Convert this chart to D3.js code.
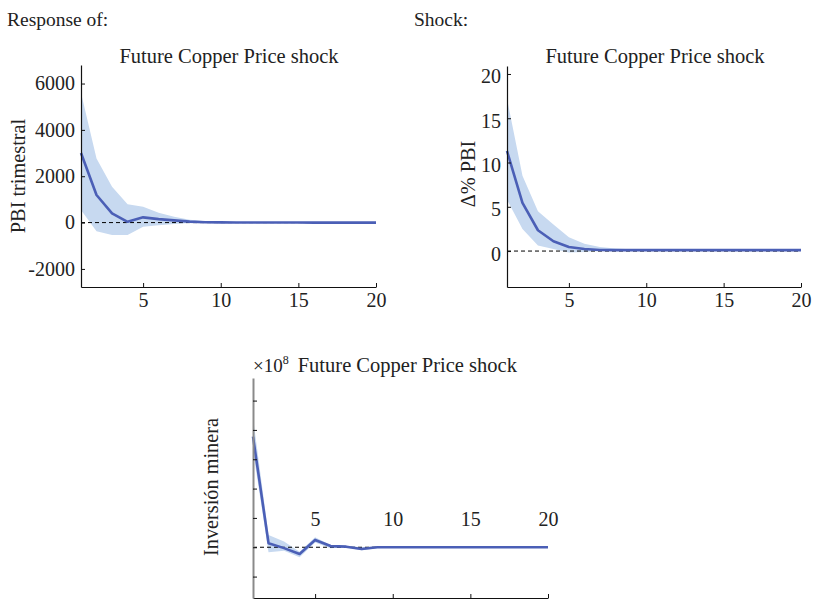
<!DOCTYPE html>
<html>
<head>
<meta charset="utf-8">
<script src="https://cdn.jsdelivr.net/npm/d3@7/dist/d3.min.js"></script>
<style>
  html, body { margin: 0; padding: 0; background: #fff; }
  svg { display: block; }
</style>
</head>
<body>
<svg id="chart" width="817" height="603"></svg>
<script>
// Horizon (quarters after the shock)
const horizon = [1,2,3,4,5,6,7,8,9,10,11,12,13,14,15,16,17,18,19,20];

// PBI trimestral: impulse response and confidence band
const pbiIrf   = [3000, 1190, 400, 35, 225, 150, 95, 40, 15, 8, 5, 3, 2, 1, 1, 0, 0, 0, 0, 0];
const pbiUpper = [5600, 2770, 1550, 790, 680, 420, 250, 120, 60, 30, 15, 10, 6, 4, 3, 2, 1, 1, 1, 1];
const pbiLower = [540, -370, -540, -540, -180, -110, -60, -20, -8, -4, -2, -1, 0, 0, 0, 0, 0, 0, 0, 0];

// Δ% PBI: impulse response and confidence band
const dpbiIrf   = [11.3, 5.45, 2.35, 1.1, 0.45, 0.23, 0.12, 0.1, 0.1, 0.1, 0.1, 0.1, 0.1, 0.1, 0.1, 0.1, 0.1, 0.1, 0.1, 0.1];
const dpbiUpper = [17.2, 8.5, 4.5, 3.0, 1.55, 0.83, 0.45, 0.3, 0.2, 0.16, 0.15, 0.15, 0.15, 0.15, 0.15, 0.15, 0.15, 0.15, 0.15, 0.15];
const dpbiLower = [5.8, 2.5, 0.64, 0.23, -0.16, -0.1, 0.0, 0.03, 0.05, 0.05, 0.05, 0.05, 0.05, 0.05, 0.05, 0.05, 0.05, 0.05, 0.05, 0.05];

// Inversión minera (×10^8): impulse response and confidence band
const invIrf   = [3.77, 0.14, -0.03, -0.23, 0.25, 0.04, 0.02, -0.06, 0.0, 0.0, 0.0, 0.0, 0.0, 0.0, 0.0, 0.0, 0.0, 0.0, 0.0, 0.0];
const invUpper = [4.42, 0.42, 0.2, -0.15, 0.34, 0.08, 0.05, 0.0, 0.03, 0.01, 0.01, 0.01, 0.01, 0.01, 0.01, 0.01, 0.01, 0.01, 0.01, 0.01];
const invLower = [3.3, -0.17, -0.12, -0.34, 0.16, -0.03, -0.01, -0.1, -0.03, -0.01, -0.01, -0.01, -0.01, -0.01, -0.01, -0.01, -0.01, -0.01, -0.01, -0.01];

// Tick values
const xTicks    = [5, 10, 15, 20];
const pbiTicks  = [-2000, 0, 2000, 4000, 6000];
const dpbiTicks = [0, 5, 10, 15, 20];
const invTicks  = [-1, 0, 1, 2, 3, 4, 5];

const title = "Future Copper Price shock";
const serif = "'Liberation Serif', 'DejaVu Serif', serif";
const lineColor = "#4b5fb6";
const bandColor = "#c7d9f0";

const svg = d3.select("#chart");

svg.append("text").attr("x", 7).attr("y", 26).style("font-size", "19.5px").text("Response of:");
svg.append("text").attr("x", 414).attr("y", 26).style("font-size", "19.5px").text("Shock:");

function panel(cfg) {
  const x = d3.scaleLinear().domain([1, 20]).range([cfg.x0, cfg.x1]);
  const y = d3.scaleLinear().domain(cfg.yDomain).range([cfg.y1, cfg.y0]);
  const g = svg.append("g");
  const rows = horizon.map((h, i) => ({ h, v: cfg.irf[i], lo: cfg.lower[i], hi: cfg.upper[i] }));

  g.append("path")
    .datum(rows)
    .attr("fill", bandColor)
    .attr("d", d3.area().x(d => x(d.h)).y0(d => y(d.lo)).y1(d => y(d.hi)));

  g.append("line")
    .attr("x1", x(1)).attr("x2", x(20))
    .attr("y1", y(0)).attr("y2", y(0))
    .attr("stroke", "#000").attr("stroke-width", 1).attr("stroke-dasharray", "4,3");

  g.append("path")
    .datum(rows)
    .attr("fill", "none")
    .attr("stroke", lineColor)
    .attr("stroke-width", 2.6)
    .attr("stroke-linejoin", "round")
    .attr("d", d3.line().x(d => x(d.h)).y(d => y(d.v)));

  // x axis
  const xa = g.append("g")
    .attr("transform", `translate(0,${cfg.y1})`)
    .call(d3.axisBottom(x).tickValues(xTicks).tickSizeInner(-4).tickSizeOuter(0).tickPadding(cfg.xPad));
  xa.select(".domain").attr("stroke", "#111").attr("stroke-width", 1.2);
  xa.selectAll(".tick line").attr("stroke", "#111");
  xa.selectAll("text").style("font-size", "20px").attr("fill", "#222");
  if (cfg.xLabelShift) xa.selectAll("text").attr("y", cfg.xLabelShift).attr("dy", "0");

  // y axis
  const ya = g.append("g")
    .attr("transform", `translate(${cfg.x0},0)`)
    .call(d3.axisLeft(y).tickValues(cfg.yTicks).tickSizeInner(-4).tickSizeOuter(0).tickPadding(6)
      .tickFormat(cfg.yLabels ? (d => String(d)) : () => ""));
  ya.select(".domain").attr("stroke", cfg.yAxisColor || "#111").attr("stroke-width", cfg.yAxisWidth || 1.2);
  ya.selectAll(".tick line").attr("stroke", "#111");
  ya.selectAll("text").style("font-size", "20px").attr("fill", "#222").attr("dy", cfg.yDy || "0.32em");

  // title
  if (cfg.titleX !== undefined) {
    g.append("text")
      .attr("x", cfg.titleX).attr("y", cfg.titleY)
      .attr("text-anchor", "middle")
      .style("font-size", "20.5px")
      .text(title);
  }

  // y label
  g.append("text")
    .attr("transform", `translate(${cfg.labelX},${cfg.labelY}) rotate(-90)`)
    .attr("text-anchor", "middle")
    .attr("dy", "0.35em")
    .style("font-size", "20.3px")
    .text(cfg.label);
  return g;
}

panel({
  x0: 81, x1: 376, y0: 65, y1: 287,
  yDomain: [-2780, 6800], yTicks: pbiTicks, yLabels: true,
  irf: pbiIrf, upper: pbiUpper, lower: pbiLower,
  xPad: 6, titleX: 229, titleY: 63,
  label: "PBI trimestral", labelX: 18, labelY: 176
});

panel({
  x0: 507, x1: 801, y0: 66, y1: 287,
  yDomain: [-4.06, 20.9], yTicks: dpbiTicks, yLabels: true, yDy: "0.45em",
  irf: dpbiIrf, upper: dpbiUpper, lower: dpbiLower,
  xPad: 6, titleX: 655, titleY: 63,
  label: "Δ% PBI", labelX: 468, labelY: 174
});

const p3 = panel({
  x0: 253, x1: 548, y0: 378, y1: 598,
  yDomain: [-1.73, 5.77], yTicks: invTicks, yLabels: false,
  yAxisColor: "#8a8a8a", yAxisWidth: 2,
  irf: invIrf, upper: invUpper, lower: invLower,
  xPad: 6, xLabelShift: -72,
  label: "Inversión minera", labelX: 211, labelY: 487
});

// scaled-axis exponent followed by the panel title
const t3 = p3.append("text").attr("x", 253).attr("y", 372).style("font-size", "20.5px");
t3.append("tspan").style("font-size", "19px").text("×10");
t3.append("tspan").attr("dy", -8).style("font-size", "12px").text("8");
t3.append("tspan").attr("dy", 8).attr("dx", 9).text(title);

// one serif face for every label
svg.selectAll("text").style("font-family", serif).attr("fill", "#222");
</script>
</body>
</html>
